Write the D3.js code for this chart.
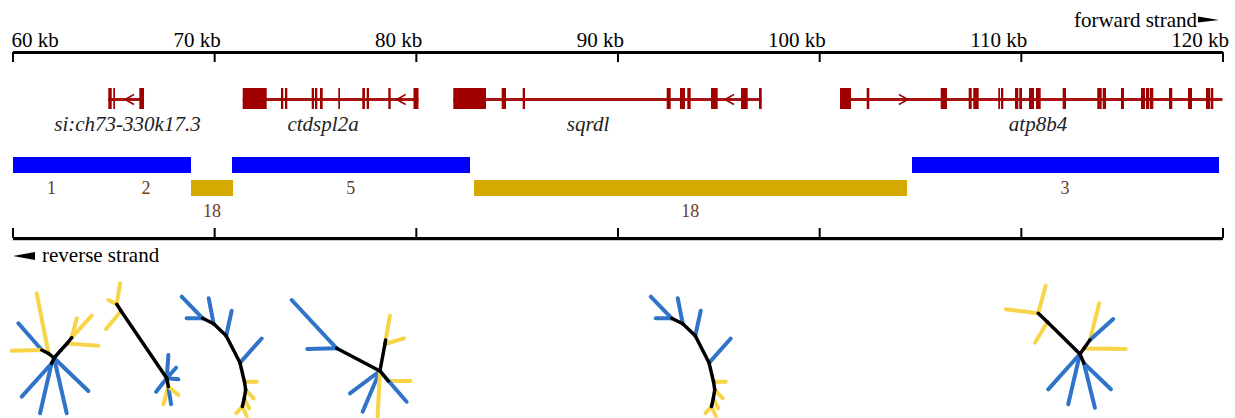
<!DOCTYPE html>
<html>
<head>
<meta charset="utf-8">
<script src="https://cdn.jsdelivr.net/npm/d3@7"></script>
<style>
  body { margin: 0; background: #fff; }
  svg { display: block; font-family: "Liberation Serif", "Times New Roman", serif; }
</style>
</head>
<body>
<svg id="chart" width="1235" height="418"></svg>
<script>
// --- data -----------------------------------------------------------------
const domainKb = [60, 120];
const tickKb = [60, 70, 80, 90, 100, 110, 120];
const tickLabels = ["60 kb", "70 kb", "80 kb", "90 kb", "100 kb", "110 kb", "120 kb"];

// genes: exons in kb, strand, where the arrow and the label sit
const geneNames = ["si:ch73-330k17.3", "ctdspl2a", "sqrdl", "atp8b4"];
const geneStrand = [-1, -1, -1, 1];
const geneSpan = [[64.75, 66.52], [71.415, 80.132], [81.858, 97.15], [101.033, 120]];
const geneArrowKb = [65.58, 79.05, 95.33, 104.4];
const geneLabelKb = [65.70, 75.40, 88.54, 110.85];
const geneExons = [
  [[64.750, 64.919], [64.998, 65.083], [66.288, 66.521]],
  [[71.415, 72.605], [73.314, 73.428], [73.512, 73.626], [74.836, 74.950], [75.000, 75.114],
   [75.248, 75.382], [76.155, 76.240], [77.345, 77.479], [77.563, 77.678], [78.635, 78.753],
   [79.884, 80.132]],
  [[81.858, 83.479], [84.258, 84.471], [85.299, 85.413], [92.439, 92.638], [93.099, 93.347],
   [93.461, 93.629], [94.636, 94.968], [96.124, 96.456], [97.016, 97.150]],
  [[101.033, 101.578], [102.357, 102.485], [106.026, 106.338], [107.414, 107.563], [107.642, 107.910],
   [108.882, 108.966], [109.016, 109.130], [109.710, 109.874], [109.923, 110.057], [110.404, 110.652],
   [110.751, 110.984], [112.075, 112.239], [113.791, 114.009], [114.059, 114.222], [114.966, 115.115],
   [115.958, 116.156], [116.206, 116.369], [116.404, 116.568], [117.346, 117.510], [118.289, 118.487],
   [119.181, 119.379], [119.414, 119.543]]
];

// segments (blue / gold rows)
const segLabels = ["1", "2", "18", "5", "18", "3"];
const segStart = [59.45, 64.41, 68.85, 70.88, 82.88, 104.58];
const segEnd = [64.41, 68.83, 70.93, 82.66, 104.33, 119.79];
const segRow = ["blue", "blue", "gold", "blue", "gold", "blue"];

// trees: branches as [parent node, dx, dy, colour]; node 0 is the root
const treeShapes = {
  "1": [[0, -5.5, -4.5, "k"], [1, -6.8, -3.5, "k"], [0, 7, -8, "k"], [3, 6, -6.5, "k"], [4, 4.7, -5.8, "k"],
        [0, -2.5, 5.5, "k"], [1, -11.8, -60, "y"], [2, -23.4, -26.7, "b"], [2, -30, 0.7, "y"],
        [6, -29.8, 33.2, "b"], [6, -11.5, 49.8, "b"], [0, 12.7, 55.3, "b"], [0, 34.3, 33, "b"],
        [5, 5, -19.4, "y"], [5, 20, -22, "y"], [4, 31.3, 2.2, "y"]],
  "2": [[0, -45.7, -67.3, "k"], [1, -4.3, -6.7, "k"], [0, 1.6, 8.4, "k"], [2, 3.3, -21, "y"],
        [2, -8.4, -4.3, "y"], [1, -15, 18, "y"], [0, 1.6, -23.3, "b"], [0, 9.3, -10.6, "b"],
        [0, 11.6, 1, "b"], [0, -10.7, 13.4, "b"], [3, -5, 17.6, "y"], [3, 2.7, 17.6, "b"],
        [3, 10, 8.3, "y"]],
  "18": [[0, 11, 5.5, "k"], [1, 12.5, 12, "k"], [2, 13.8, 27, "k"], [3, 4.5, 19, "k"], [4, 1.2, 8, "k"],
         [5, -1.5, 9, "k"], [6, -1.8, 7.7, "k"], [0, -21, -21.6, "b"], [0, -16, 0, "b"],
         [1, -5, -25.6, "b"], [2, 5.5, -25, "b"], [3, 21.7, -24.3, "b"], [4, 12.3, 0, "y"],
         [5, 8, 8.5, "y"], [6, 5, 9.5, "y"], [7, -6, 6.6, "y"], [7, 4.3, 9.5, "y"]],
  "5": [[0, -43.3, -22.7, "k"], [0, 5, -27, "k"], [2, 0.7, -4, "k"], [0, 8.3, 10, "k"],
        [1, -45, -48.3, "b"], [1, -29.4, 0.7, "b"], [3, 4.3, -24.3, "y"], [2, 19, -5.7, "y"],
        [4, 22.4, 0, "y"], [0, 26.7, 30.7, "b"], [0, -30, 22.3, "b"], [0, -17.3, 40.7, "b"],
        [0, -2.3, 45.7, "y"]],
  "3": [[0, -32.5, -32, "k"], [1, -9.2, -8.7, "k"], [0, 4, -5.5, "k"], [3, 6, -8.5, "k"], [0, 4, 9.3, "k"],
        [2, 7.4, -27.6, "y"], [2, -32.3, -4, "y"], [1, -12.5, 20.7, "y"], [4, 9.3, -36.7, "y"],
        [4, 23.3, -21, "b"], [3, 41.7, 0.5, "y"], [0, -31.7, 35.3, "b"], [0, -11.7, 50.3, "b"],
        [5, 11, 44.4, "b"], [5, 27, 26, "b"]]
};
const treeLabels = ["1", "2", "18", "5", "18", "3"];
const treeRootKb = [62.06, 67.65, 69.43, 78.22, 92.69, 112.93];
const treeRootDepth = [73, 93.3, 33.3, 86, 33.3, 69];

// --- drawing --------------------------------------------------------------
const svg = d3.select("#chart");
const geneColor = "#a00000";
const rowColor = { blue: "#0000ff", gold: "#d4a900" };
const branchColor = { k: "#000000", b: "#2f74c9", y: "#f8d548" };

const x = d3.scaleLinear().domain(domainKb).range([12.5, 1222.5]);

// top axis: line with ticks hanging down, labels above
const topAxis = svg.append("g").attr("transform", "translate(0,52)")
  .call(d3.axisBottom(x).tickValues(tickKb).tickSize(10).tickSizeOuter(0)
    .tickFormat((d, i) => tickLabels[i]));
topAxis.select(".domain").attr("stroke-width", 3);
topAxis.selectAll(".tick line").attr("stroke-width", 2);
topAxis.selectAll(".tick text")
  .attr("y", -5).attr("dy", 0)
  .attr("font-size", 21).attr("font-family", "Liberation Serif").attr("fill", "#000")
  .attr("text-anchor", (d, i) => (i === 0 ? "start" : "end"))
  .attr("dx", (d, i) => (i === 0 ? -1.5 : 6));

// strand labels
svg.append("text").attr("x", 1197).attr("y", 26.5).attr("text-anchor", "end")
  .attr("font-size", 21).text("forward strand");
svg.append("path").attr("d", "M1198,16.5 L1219,20 L1198,22.5 Z").attr("fill", "#000");

// genes
const geneG = svg.append("g");
geneNames.forEach((name, gi) => {
  const g = geneG.append("g");
  const yMid = 99.5;
  g.append("line")
    .attr("x1", x(geneSpan[gi][0])).attr("x2", x(geneSpan[gi][1]))
    .attr("y1", yMid).attr("y2", yMid)
    .attr("stroke", "#a81414").attr("stroke-width", 3);
  g.selectAll("rect").data(geneExons[gi]).join("rect")
    .attr("x", (d) => x(d[0]))
    .attr("width", (d) => Math.max(1.6, x(d[1]) - x(d[0])))
    .attr("y", 88).attr("height", 21)
    .attr("fill", geneColor);
  const ax = x(geneArrowKb[gi]);
  const s = geneStrand[gi];
  g.append("path")
    .attr("d", `M${ax - s * 9},${yMid - 5} L${ax},${yMid} L${ax - s * 9},${yMid + 5}`)
    .attr("fill", "none").attr("stroke", geneColor).attr("stroke-width", 1.5);
  g.append("text")
    .attr("x", x(geneLabelKb[gi])).attr("y", 130.5)
    .attr("text-anchor", "middle").attr("font-style", "italic")
    .attr("font-size", 21).attr("fill", "#222").text(name);
});

// segments
const segs = segLabels.map((label, i) => ({
  label, start: segStart[i], end: segEnd[i], row: segRow[i]
}));
const rowTop = { blue: 157, gold: 180 };
svg.append("g").attr("shape-rendering", "crispEdges")
  .selectAll("rect").data(segs).join("rect")
  .attr("x", (d) => x(Math.max(d.start, domainKb[0])))
  .attr("width", (d) => x(Math.min(d.end, domainKb[1])) - x(Math.max(d.start, domainKb[0])) + 0.5)
  .attr("y", (d) => rowTop[d.row]).attr("height", 16)
  .attr("fill", (d) => rowColor[d.row]);
svg.append("g").selectAll("text").data(segs).join("text")
  .attr("x", (d) => x((d.start + d.end) / 2))
  .attr("y", (d) => rowTop[d.row] + 36.5)
  .attr("text-anchor", "middle").attr("font-size", 18).attr("fill", "#6a3a22")
  .text((d) => d.label);

// bottom axis: ticks pointing up, no labels
const botAxis = svg.append("g").attr("transform", "translate(0,238)")
  .call(d3.axisTop(x).tickValues(tickKb).tickSize(10).tickSizeOuter(0).tickFormat(""));
botAxis.select(".domain").attr("stroke-width", 3);
botAxis.selectAll(".tick line").attr("stroke-width", 2);
svg.append("line").attr("x1", x(domainKb[0])).attr("x2", x(domainKb[1]))
  .attr("y1", 240.5).attr("y2", 240.5).attr("stroke", "#c8c8c8").attr("stroke-width", 1);

svg.append("path").attr("d", "M13,256 L35,252 L35,260 Z").attr("fill", "#000");
svg.append("text").attr("x", 42).attr("y", 261.5).attr("font-size", 21).text("reverse strand");

// trees
const branch = d3.scaleLinear().domain([0, 1]).range([0, 1]);
const treeTop = 285;
const treeG = svg.append("g")
  .attr("stroke-linecap", "round").attr("stroke-linejoin", "round").attr("fill", "none");
treeLabels.forEach((label, ti) => {
  const shape = treeShapes[label];
  const nodes = [[x(treeRootKb[ti]), treeTop + branch(treeRootDepth[ti])]];
  const edges = shape.map(([p, dx, dy, c]) => {
    const a = nodes[p];
    const b = [a[0] + branch(dx), a[1] + branch(dy)];
    nodes.push(b);
    return { a, b, c };
  });
  const g = treeG.append("g");
  g.selectAll("line.leaf").data(edges.filter((e) => e.c !== "k")).join("line")
    .attr("class", "leaf")
    .attr("x1", (e) => e.a[0]).attr("y1", (e) => e.a[1])
    .attr("x2", (e) => e.b[0]).attr("y2", (e) => e.b[1])
    .attr("stroke", (e) => branchColor[e.c]).attr("stroke-width", 4);
  g.selectAll("line.inner").data(edges.filter((e) => e.c === "k")).join("line")
    .attr("class", "inner")
    .attr("x1", (e) => e.a[0]).attr("y1", (e) => e.a[1])
    .attr("x2", (e) => e.b[0]).attr("y2", (e) => e.b[1])
    .attr("stroke", branchColor.k).attr("stroke-width", 3.5);
});
</script>
</body>
</html>
